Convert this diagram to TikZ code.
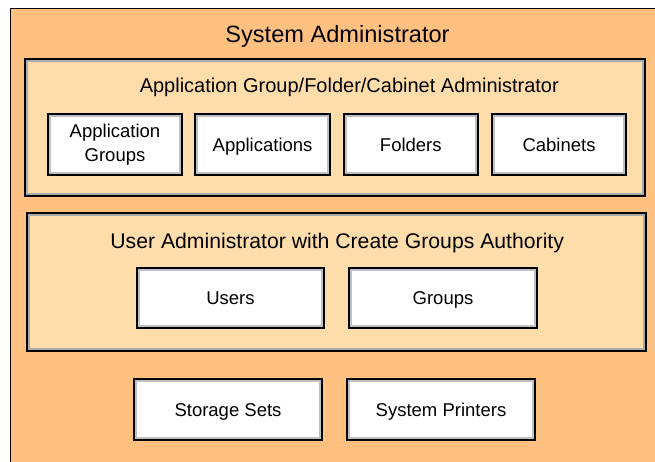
\documentclass[tikz,border=0pt]{standalone}
\usepackage{fontspec}
\setmainfont{Liberation Sans}
\definecolor{outerorange}{RGB}{255,192,128}
\definecolor{innerpeach}{RGB}{255,221,170}
\definecolor{bevelgrey}{RGB}{170,170,170}
\definecolor{bevelgreylt}{RGB}{192,192,192}
\tikzset{
  bevelbox/.style={rectangle, draw=black, line width=2pt, inner sep=0pt, outer sep=0pt,
    path picture={\draw[#1, line width=6pt] (path picture bounding box.south west) rectangle (path picture bounding box.north east);}},
  groupbox/.style={bevelbox=bevelgrey, fill=innerpeach},
  itembox/.style={bevelbox=bevelgreylt, fill=white, align=center,
    font=\fontsize{18.5}{24}\selectfont},
  oneline/.style={text height=13.6pt, text depth=0pt},
  titletext/.style={anchor=base, inner sep=0pt},
}
\begin{document}
\begin{tikzpicture}[x=1pt,y=-1pt]
\useasboundingbox (0,0) rectangle (655,462);
\clip (0,0) rectangle (655,462);
% outer system administrator area
\draw[fill=outerorange, draw=black, line width=1.4pt] (10.5,8.5) rectangle (700,520);
\node[titletext, font=\fontsize{23.6}{28}\selectfont] (tsys) at (337.5,43) {System Administrator};

% group 1
\node[groupbox, minimum width=620, minimum height=137] (g1) at (335,127.5) {};
\node[titletext, font=\fontsize{20}{24}\selectfont] (tg1) at (349.3,92.7) {Application Group/Folder/Cabinet Administrator};
\node[itembox, minimum width=134.5, minimum height=61.5] (ag) at (115,144.7) {Application\\Groups};
\node[itembox, oneline, minimum width=134.5, minimum height=61.5] (ap) at (262.6,144.7) {Applications};
\node[itembox, oneline, minimum width=134.5, minimum height=61.5] (fo) at (410.8,144.7) {Folders};
\node[itembox, oneline, minimum width=134.5, minimum height=61.5] (ca) at (559,144.7) {Cabinets};

% group 2
\node[groupbox, minimum width=619.3, minimum height=137.4] (g2) at (336.7,282) {};
\node[titletext, font=\fontsize{21.2}{25}\selectfont] (tg2) at (337.2,248.7) {User Administrator with Create Groups Authority};
\node[itembox, oneline, minimum width=187.5, minimum height=60.5] (us) at (230.5,298) {Users};
\node[itembox, oneline, minimum width=187.5, minimum height=60.5] (gr) at (443,298) {Groups};

% standalone items
\node[itembox, oneline, minimum width=187.5, minimum height=61] (ss) at (228,409.5) {Storage Sets};
\node[itembox, oneline, minimum width=187.5, minimum height=61] (sp) at (441,409.5) {System Printers};
\end{tikzpicture}
\end{document}
